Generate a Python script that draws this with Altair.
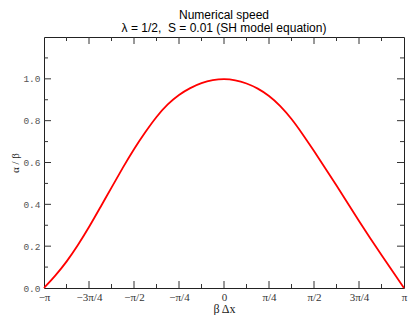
import math
import altair as alt
import pandas as pd

PI = math.pi

# x in units of pi (beta*dx / pi)
u_vals = [-1.0, -0.9375, -0.875, -0.8125, -0.75, -0.6875, -0.625, -0.5625, -0.5,
          -0.4375, -0.375, -0.3125, -0.25, -0.1875, -0.125, -0.0625, 0.0,
          0.0625, 0.125, 0.1875, 0.25, 0.3125, 0.375, 0.4375, 0.5,
          0.5625, 0.625, 0.6875, 0.75, 0.8125, 0.875, 0.9375, 1.0]
speed = [0.0, 0.058, 0.124, 0.203, 0.29, 0.385, 0.48, 0.575, 0.665,
         0.745, 0.82, 0.88, 0.925, 0.957, 0.981, 0.995, 1.0,
         0.995, 0.979, 0.955, 0.92, 0.872, 0.81, 0.735, 0.655,
         0.573, 0.49, 0.405, 0.32, 0.238, 0.158, 0.078, 0.0]

x_tick_labels = ["\u2212\u03c0", "\u22123\u03c0/4", "\u2212\u03c0/2", "\u2212\u03c0/4", "0",
                 "\u03c0/4", "\u03c0/2", "3\u03c0/4", "\u03c0"]
x_major_u = [-1, -0.75, -0.5, -0.25, 0, 0.25, 0.5, 0.75, 1]
x_minor_u = [-0.875, -0.625, -0.375, -0.125, 0.125, 0.375, 0.625, 0.875]
y_major = [0.0, 0.2, 0.4, 0.6, 0.8, 1.0]
y_minor = [0.1, 0.3, 0.5, 0.7, 0.9, 1.1]

W, H = 360, 251

df = pd.DataFrame({"x": [u * PI for u in u_vals], "y": speed})

xscale = alt.Scale(domain=[-PI, PI], nice=False, zero=False)
yscale = alt.Scale(domain=[0, 1.2], nice=False, zero=False)

label_arr = "[" + ",".join("'" + s + "'" for s in x_tick_labels) + "]"

line = alt.Chart(df).mark_line(color="#ff0000", strokeWidth=1.8, interpolate="basis").encode(
    x=alt.X("x:Q", scale=xscale,
            axis=alt.Axis(values=[u * PI for u in x_major_u], title="\u03b2 \u0394x",
                          labelExpr=label_arr + "[round(datum.value*4/PI)+4]",
                          ticks=False, domain=False, grid=False,
                          labelFont="Liberation Serif", labelFontSize=11, labelColor="#333",
                          labelPadding=3, labelFlush=False,
                          titleFont="Liberation Serif", titleFontSize=12, titleFontWeight="normal",
                          titleColor="#222", titlePadding=1)),
    y=alt.Y("y:Q", scale=yscale,
            axis=alt.Axis(values=y_major, format=".1f", title="\u03b1 / \u03b2",
                          ticks=False, domain=False, grid=False,
                          labelFont="Liberation Mono", labelFontSize=9.5, labelColor="#555",
                          labelPadding=4,
                          titleFont="Liberation Serif", titleFontSize=11, titleFontWeight="normal",
                          titleColor="#222", titlePadding=2)),
)

def xticks(vals, length, top):
    d = pd.DataFrame({"x": [u * PI for u in vals]})
    y0, y1 = (0, length) if top else (H, H - length)
    return alt.Chart(d).mark_rule(color="#333", strokeWidth=1).encode(
        x=alt.X("x:Q", scale=xscale),
        y=alt.value(y0), y2=alt.value(y1))

def yticks(vals, length, right):
    d = pd.DataFrame({"y": vals})
    x0, x1 = (W, W - length) if right else (0, length)
    return alt.Chart(d).mark_rule(color="#333", strokeWidth=1).encode(
        y=alt.Y("y:Q", scale=yscale),
        x=alt.value(x0), x2=alt.value(x1))

tick_layers = [
    xticks(x_major_u[1:-1], 7, False), xticks(x_major_u[1:-1], 7, True),
    xticks(x_minor_u, 4, False), xticks(x_minor_u, 4, True),
    yticks(y_major[1:], 7, False), yticks(y_major[1:], 7, True),
    yticks(y_minor, 4, False), yticks(y_minor, 4, True),
]

chart = alt.layer(line, *tick_layers).properties(
    width=W, height=H,
    autosize=alt.AutoSizeParams(type="none"),
    padding={"left": 36, "top": 29, "right": 6, "bottom": 27},
    title=alt.TitleParams(
        text="Numerical speed",
        subtitle="\u03bb = 1/2,\u00a0 S = 0.01 (SH model equation)",
        font="Liberation Sans", fontSize=12, fontWeight="normal", color="#000",
        subtitleFont="Liberation Sans", subtitleFontSize=12, subtitleColor="#000",
        subtitlePadding=1, anchor="middle", offset=2),
).configure_view(stroke="#222", strokeWidth=1)

chart.save("out.html", embed_options={"renderer": "svg", "actions": False})
